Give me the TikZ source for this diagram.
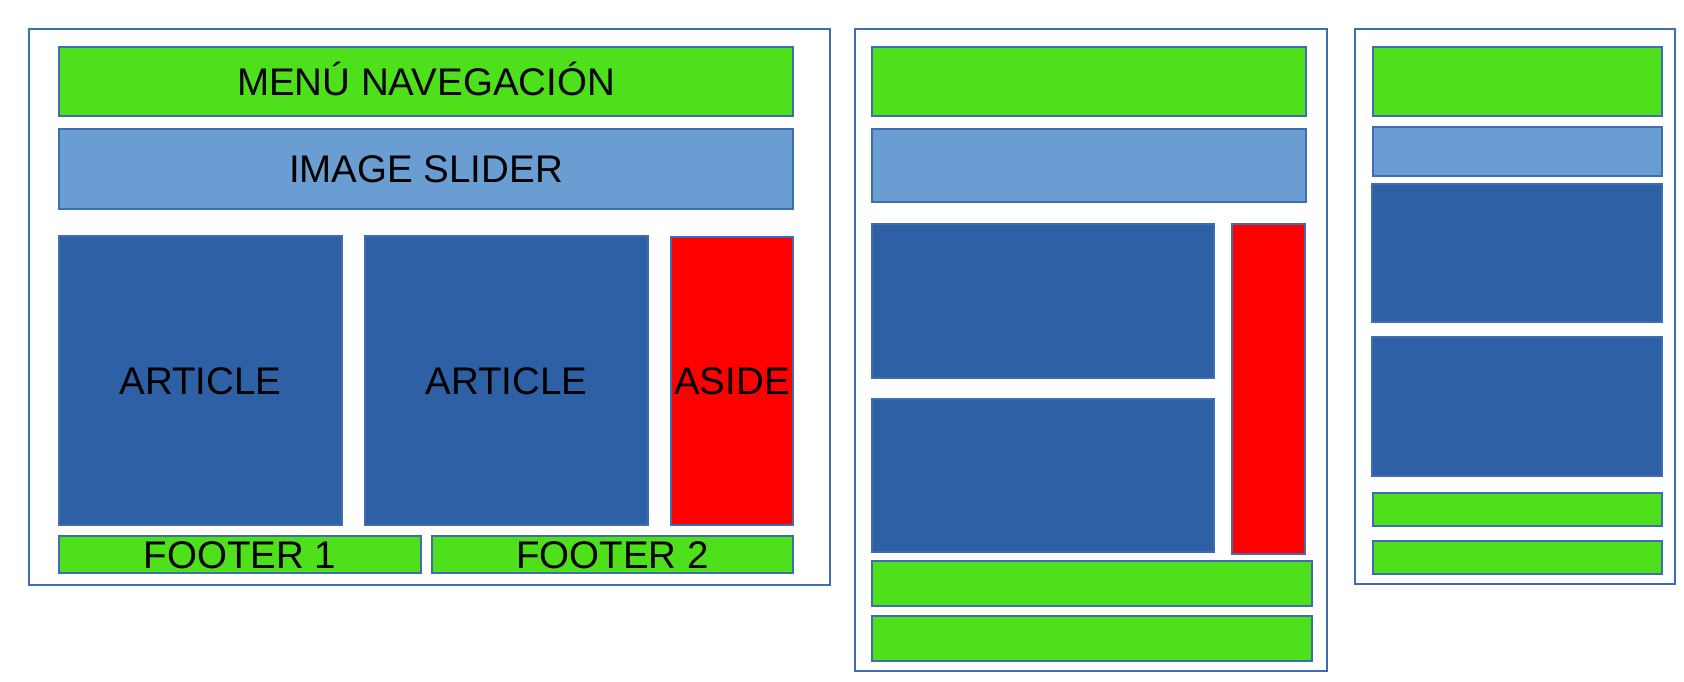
\documentclass[tikz,border=0pt]{standalone}
\usepackage{fontspec}
\setmainfont{Liberation Sans}
\definecolor{gr}{HTML}{4EE01A}
\definecolor{lb}{HTML}{6A9ED2}
\definecolor{db}{HTML}{2E60A6}
\definecolor{rd}{HTML}{FF0000}
\definecolor{edge}{HTML}{3F6DB0}
\tikzset{
  blk/.style={draw=edge, line width=1.3pt, inner sep=0pt, outer sep=0pt,
    font=\fontsize{38.5}{41}\selectfont, text height=27.5pt, text depth=0pt},
  grbox/.style={blk, fill=gr},
  lbbox/.style={blk, fill=lb},
  dbbox/.style={blk, fill=db},
  rdbox/.style={blk, fill=rd},
  frm/.style={blk, draw=edge, line width=2pt, fill=white}
}
\newcommand\blk[7]{%
  \node[#1, minimum width={(#5-#3)*1pt}, minimum height={(#6-#4)*1pt}]
    (#2) at ({(#3+#5)/2},{(#4+#6)/2}) {#7};}
\begin{document}
\begin{tikzpicture}[x=1pt,y=-1pt]
\useasboundingbox (0,0) rectangle (1684,682);
% frame 1
\blk{frm}{f1}{29}{29}{830}{585}{}
\blk{grbox}{menu}{59}{47}{793}{116}{MENÚ NAVEGACIÓN}
\blk{lbbox}{slider}{59}{129}{793}{209}{IMAGE SLIDER}
\blk{dbbox}{art1}{59}{236}{342}{525}{ARTICLE}
\blk{dbbox}{art2}{365}{236}{648}{525}{ARTICLE}
\blk{rdbox}{aside}{671}{237}{793}{525}{ASIDE}
\blk{grbox}{foot1}{59}{536}{421}{573}{FOOTER 1}
\blk{grbox}{foot2}{432}{536}{793}{573}{FOOTER 2}
% frame 2
\blk{frm}{f2}{855}{29}{1327}{671}{}
\blk{grbox}{m2}{872}{47}{1306}{116}{}
\blk{lbbox}{s2}{872}{129}{1306}{202}{}
\blk{dbbox}{a21}{872}{224}{1214}{378}{}
\blk{dbbox}{a22}{872}{399}{1214}{552}{}
\blk{rdbox}{as2}{1232}{224}{1305}{554}{}
\blk{grbox}{f21}{872}{561}{1312}{606}{}
\blk{grbox}{f22}{872}{616}{1312}{661}{}
% frame 3
\blk{frm}{f3}{1355}{29}{1675}{584}{}
\blk{grbox}{m3}{1373}{47}{1662}{116}{}
\blk{lbbox}{s3}{1373}{127}{1662}{176}{}
\blk{dbbox}{a31}{1372}{184}{1662}{322}{}
\blk{dbbox}{a32}{1372}{337}{1662}{476}{}
\blk{grbox}{f31}{1373}{493}{1662}{526}{}
\blk{grbox}{f32}{1373}{541}{1662}{574}{}
\end{tikzpicture}
\end{document}
